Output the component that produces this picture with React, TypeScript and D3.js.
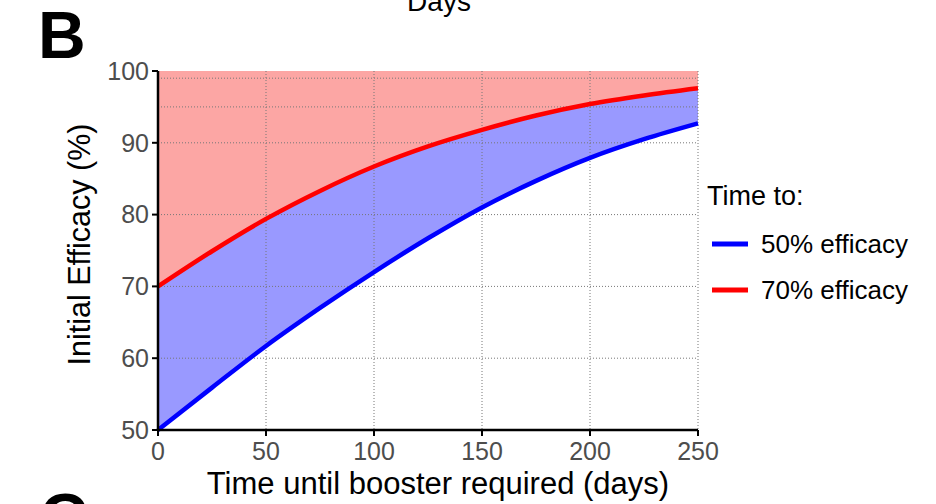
import React from "react";
import * as d3 from "d3";

const days = [0, 25, 50, 75, 100, 125, 150, 175, 200, 225, 250];
const initialEfficacy50 = [50, 55.9, 61.7, 67.0, 72.0, 76.7, 81.0, 84.7, 87.9, 90.5, 92.7];
const initialEfficacy70 = [70, 74.9, 79.4, 83.3, 86.7, 89.5, 91.8, 93.8, 95.4, 96.6, 97.6];
const xTicks = [0, 50, 100, 150, 200, 250];
const yTicks = [50, 60, 70, 80, 90, 100];
const yGrid = [60, 70, 80, 90, 95, 99];
const legendLabels = ["50% efficacy", "70% efficacy"];

const FONT = "'Liberation Sans', Arial, Helvetica, sans-serif";

export default function App() {
  const W = 936, H = 504;
  const x = d3.scaleLinear().domain([0, 250]).range([158, 698]);
  const y = d3.scaleLinear().domain([50, 100]).range([430, 71]);

  const pts50 = days.map((d, i) => [d, initialEfficacy50[i]] as [number, number]);
  const pts70 = days.map((d, i) => [d, initialEfficacy70[i]] as [number, number]);

  const line = d3.line<[number, number]>().x(d => x(d[0])).y(d => y(d[1])).curve(d3.curveMonotoneX);
  const areaTop = d3.area<[number, number]>().x(d => x(d[0])).y0(() => y(100)).y1(d => y(d[1])).curve(d3.curveMonotoneX);
  const between = days.map((d, i) => ({ d, lo: initialEfficacy50[i], hi: initialEfficacy70[i] }));
  const areaMid = d3.area<{ d: number; lo: number; hi: number }>()
    .x(p => x(p.d)).y0(p => y(p.lo)).y1(p => y(p.hi)).curve(d3.curveMonotoneX);

  const colors = ["#0000ff", "#ff0000"];

  return (
    <svg width={W} height={H} style={{ position: "absolute", left: 0, top: 0, background: "#fff" }} fontFamily={FONT}>
      <text x={439} y={11} fontSize={28} textAnchor="middle" fill="#000">Days</text>
      <text x={38} y={58} fontSize={66} fontWeight="bold" fill="#000">B</text>
      <text x={40} y={540} fontSize={66} fontWeight="bold" fill="#000">C</text>

      <path d={areaTop(pts70) || ""} fill="#fca6a4" />
      <path d={areaMid(between) || ""} fill="#9999ff" />

      {xTicks.filter(t => t > 0).map(t => (
        <line key={"gx" + t} x1={x(t)} x2={x(t)} y1={y(100)} y2={y(50)} stroke="#777" strokeWidth={1} strokeDasharray="1,2" />
      ))}
      {yGrid.map(t => (
        <line key={"gy" + t} x1={x(0)} x2={x(250)} y1={y(t)} y2={y(t)} stroke="#777" strokeWidth={1} strokeDasharray="1,2" />
      ))}

      <path d={line(pts50) || ""} fill="none" stroke={colors[0]} strokeWidth={4.5} />
      <path d={line(pts70) || ""} fill="none" stroke={colors[1]} strokeWidth={4.5} />

      <line x1={x(0)} x2={x(0)} y1={y(100)} y2={y(50) + 1} stroke="#000" strokeWidth={2.5} />
      <line x1={x(0) - 1} x2={x(250)} y1={y(50)} y2={y(50)} stroke="#000" strokeWidth={2.5} />
      {yTicks.map(t => (
        <g key={"yt" + t}>
          <line x1={x(0) - 6} x2={x(0)} y1={y(t)} y2={y(t)} stroke="#000" strokeWidth={2} />
          <text x={x(0) - 9} y={y(t)} dy="0.35em" fontSize={25} textAnchor="end" fill="#4d4d4d">{t}</text>
        </g>
      ))}
      {xTicks.map(t => (
        <g key={"xt" + t}>
          <line x1={x(t)} x2={x(t)} y1={y(50)} y2={y(50) + 6} stroke="#000" strokeWidth={2} />
          <text x={x(t)} y={y(50) + 30} fontSize={25} textAnchor="middle" fill="#4d4d4d">{t}</text>
        </g>
      ))}

      <text x={438} y={494} fontSize={31} textAnchor="middle" fill="#000">Time until booster required (days)</text>
      <text transform={`translate(90,${y(75) - 6}) rotate(-90)`} fontSize={30.5} textAnchor="middle" fill="#000">Initial Efficacy (%)</text>

      <text x={707} y={205} fontSize={27} fill="#000">Time to:</text>
      {legendLabels.map((l, i) => (
        <g key={l}>
          <line x1={712} x2={748} y1={244 + i * 46} y2={244 + i * 46} stroke={colors[i]} strokeWidth={5} />
          <text x={761} y={253 + i * 46} fontSize={26} fill="#000">{l}</text>
        </g>
      ))}
    </svg>
  );
}
